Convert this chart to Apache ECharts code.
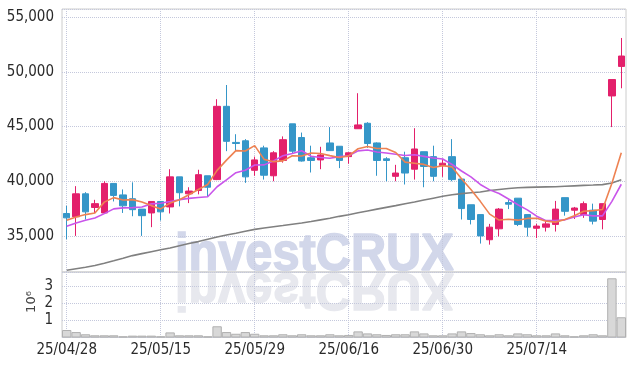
<!DOCTYPE html>
<html><head><meta charset="utf-8">
<script src="https://cdn.jsdelivr.net/npm/echarts@6/dist/echarts.min.js"></script>
<style>html,body{margin:0;padding:0;background:#fff}#c{width:634px;height:366px}</style>
</head><body><div id="c"></div>
<script>
const dates = ['25/04/28','25/04/29','25/04/30','25/05/02','25/05/07','25/05/08','25/05/09','25/05/12','25/05/13','25/05/14',
'25/05/15','25/05/16','25/05/19','25/05/20','25/05/21','25/05/22','25/05/23','25/05/26','25/05/27','25/05/28',
'25/05/29','25/05/30','25/06/02','25/06/04','25/06/05','25/06/09','25/06/10','25/06/11','25/06/12','25/06/13',
'25/06/16','25/06/17','25/06/18','25/06/19','25/06/20','25/06/23','25/06/24','25/06/25','25/06/26','25/06/27',
'25/06/30','25/07/01','25/07/02','25/07/03','25/07/04','25/07/07','25/07/08','25/07/09','25/07/10','25/07/11',
'25/07/14','25/07/15','25/07/16','25/07/17','25/07/18','25/07/21','25/07/22','25/07/23','25/07/24','25/07/25'];
const opens = [37050,36750,38850,37600,37100,39800,38750,38400,37450,37100,
38150,37650,40400,38850,39150,40500,40150,46850,43550,43700,
41000,43050,40500,41900,45250,44000,42150,41950,43500,43200,
42250,44800,45300,43500,42050,40450,42150,41100,42700,42250,
41450,42250,40200,37850,36950,34650,35650,38050,38450,36950,
35700,35800,36050,38500,37350,36950,37350,36500,47800,50500];
const highs = [37750,39550,39000,38300,40000,39800,39250,39900,37450,38150,
38150,41100,40400,39450,41050,40500,47500,48800,44300,43850,
42250,43250,42750,44100,45250,44450,43250,43150,44950,43200,
42650,48050,45400,43550,42200,41500,42700,44850,42700,43250,
42050,43850,40200,37850,36950,36100,37550,38300,38450,36950,
36100,36350,38200,38500,37650,38150,37950,37950,49300,53100];
const lows = [34700,35000,36500,37100,37050,38150,37100,36800,35000,35800,
36400,37050,37700,38000,38800,38600,40100,42750,42750,39850,
40500,40150,40000,41700,42500,41800,40800,41100,42800,41200,
41600,44800,43050,40500,40000,40000,39700,40150,39450,40000,
40400,40000,36500,36050,34300,34200,34950,37450,35900,34950,
34800,35400,35400,36850,36550,36650,36050,35600,44950,48500];
const closes = [36650,38850,37200,37950,39800,38700,37750,37400,36850,38150,
37200,40400,38950,39100,40600,39450,46850,43650,43450,40400,
41950,40550,42600,43800,42750,41850,41900,42400,42800,41900,
42600,45150,43450,41900,41900,40750,40750,42950,41350,40450,
41650,40150,37500,36500,35000,35800,37450,37900,36050,35800,
35900,36100,37450,37250,37550,37950,36350,37950,49300,51450];
const volumes = [0.44,0.32,0.19,0.13,0.13,0.13,0.07,0.11,0.11,0.11,
0.07,0.30,0.13,0.13,0.13,0.07,0.66,0.32,0.22,0.32,
0.22,0.13,0.13,0.19,0.13,0.19,0.13,0.13,0.19,0.13,
0.15,0.36,0.24,0.19,0.15,0.19,0.19,0.36,0.24,0.13,
0.13,0.24,0.36,0.26,0.19,0.13,0.19,0.13,0.24,0.19,
0.13,0.13,0.24,0.13,0.07,0.13,0.19,0.13,3.48,1.19];
const ma5 = [36430,36730,36950,37100,38090,38500,38280,38320,38100,37770,
37470,38000,38310,38760,39250,39700,40990,41930,42800,42760,
43260,42000,41790,41860,42330,42310,42580,42540,42340,42170,
42320,42970,43180,43000,43000,42630,41750,41650,41540,41250,
41430,41310,40220,39250,38160,36990,36450,36530,36440,36600,
36620,36350,36260,36500,36850,37260,37310,37410,39820,42600];
const ma10 = [35880,36190,36430,36640,37040,37470,37560,37590,37650,37930,
37985,38140,38315,38430,38510,38585,39495,40120,40780,41005,
41480,41495,41860,42330,42545,42785,42290,42165,42100,42250,
42315,42775,42860,42670,42585,42475,42360,42415,42270,42125,
42030,41530,40935,40395,39705,39210,38880,38375,37845,37380,
36805,36400,36395,36470,36725,36940,36830,36835,38160,39725];
const maLong = [31860,32000,32140,32290,32500,32720,32950,33200,33380,33560,
33730,33900,34100,34300,34480,34700,34900,35080,35250,35430,
35600,35720,35840,35950,36070,36180,36320,36470,36620,36790,
36940,37110,37280,37450,37610,37770,37940,38100,38280,38450,
38620,38770,38870,38950,39010,39160,39250,39330,39410,39440,
39460,39480,39500,39540,39580,39620,39650,39690,39840,40140];

const UP = '#e3206b', DOWN = '#3596c8';
const FONT = "'Liberation Sans Narrow','DejaVu Sans Condensed',sans-serif";
const gridLine = {show:true, interval:9, alignWithLabel:true, lineStyle:{color:'#c4c8dc', type:'dotted', width:1}};
const ySplit = {show:true, lineStyle:{color:'#c4c8dc', type:'dotted', width:1}};
const WM_FONT = "bold 51px 'Liberation Sans', sans-serif";

const chart = echarts.init(document.getElementById('c'), null, {renderer:'canvas'});
chart.setOption({
  animation:false,
  backgroundColor:'#fff',
  grid:[
    {left:62, right:8, top:9, height:263, show:true, borderColor:'#cccccc', borderWidth:1},
    {left:62, right:8, top:272, height:65.5, show:true, borderColor:'#cccccc', borderWidth:1}
  ],
  xAxis:[
    {type:'category', gridIndex:0, data:dates, boundaryGap:true,
     axisLine:{show:false}, axisTick:{show:false}, axisLabel:{show:false}, splitLine:gridLine},
    {type:'category', gridIndex:1, data:dates, boundaryGap:true,
     axisLine:{show:false}, axisTick:{show:false},
     axisLabel:{interval:9, color:'#2a2a2a', fontFamily:FONT, fontSize:15, margin:5},
     splitLine:gridLine}
  ],
  yAxis:[
    {type:'value', gridIndex:0, min:31700, max:55750, scale:true,
     axisLine:{show:false}, axisTick:{show:false}, splitLine:ySplit,
     axisLabel:{color:'#2a2a2a', fontFamily:FONT, fontSize:15, margin:8, showMinLabel:false, showMaxLabel:false,
       formatter:v=>v.toLocaleString('en-US')}},
    {type:'value', gridIndex:1, min:0, max:3.85, interval:1,
     axisLine:{show:false}, axisTick:{show:false}, splitLine:ySplit,
     axisLabel:{color:'#2a2a2a', fontFamily:FONT, fontSize:15, margin:9, showMinLabel:false, showMaxLabel:false}}
  ],
  graphic:[
    {type:'text', x:175, y:272, z:-10, silent:true, scaleX:0.955,
     style:{text:'investCRUX', x:0, y:-16, verticalAlign:'middle', align:'left',
       font:WM_FONT, fill:'#d2d7ea', stroke:'#d2d7ea', lineWidth:1.5}},
    {type:'text', x:175, y:272, z:-10, silent:true, scaleX:0.955, scaleY:-1,
     style:{text:'investCRUX', x:0, y:-16, verticalAlign:'middle', align:'left',
       font:WM_FONT, fill:'#e7e8ee', stroke:'#e7e8ee', lineWidth:1.5}},
    {type:'text', x:32, y:302, rotation:Math.PI/2, silent:true,
     style:{text:'10⁶', align:'center', verticalAlign:'middle', font:"13px 'DejaVu Sans', sans-serif", fill:'#444'}}
  ],
  series:[
    {type:'candlestick', xAxisIndex:0, yAxisIndex:0, barWidth:7,
     data:dates.map((d,i)=>[opens[i], closes[i], lows[i], highs[i]]),
     itemStyle:{color:UP, color0:DOWN, borderColor:UP, borderColor0:DOWN, borderWidth:1}},
    {type:'line', xAxisIndex:0, yAxisIndex:0, data:maLong, symbol:'none', smooth:false,
     lineStyle:{color:'#808080', width:1.6}},
    {type:'line', xAxisIndex:0, yAxisIndex:0, data:ma10, symbol:'none',
     lineStyle:{color:'#c955ea', width:1.6}},
    {type:'line', xAxisIndex:0, yAxisIndex:0, data:ma5, symbol:'none',
     lineStyle:{color:'#ee8252', width:1.6}},
    {type:'bar', xAxisIndex:1, yAxisIndex:1, data:volumes, barCategoryGap:'0%',
     itemStyle:{color:'#d8d8d8', borderColor:'#b0b0b0', borderWidth:1}}
  ]
});
</script></body></html>
